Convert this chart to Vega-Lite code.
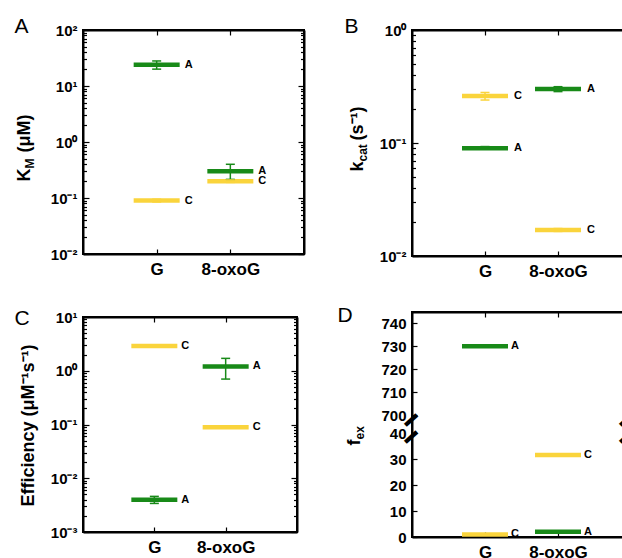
{
  "$schema": "https://vega.github.io/schema/vega-lite/v6.json",
  "padding": {"left": 13, "top": 14, "right": 0, "bottom": 0},
  "datasets": {
    "km": [
      {"sub": "G", "base": "A", "value": 24, "lo": 20, "hi": 28},
      {"sub": "G", "base": "C", "value": 0.09, "lo": 0.085, "hi": 0.095},
      {"sub": "8-oxoG", "base": "A", "value": 0.3, "lo": 0.215, "hi": 0.4},
      {"sub": "8-oxoG", "base": "C", "value": 0.2, "lo": 0.19, "hi": 0.21}
    ],
    "kcat": [
      {"sub": "G", "base": "C", "value": 0.26, "lo": 0.24, "hi": 0.28},
      {"sub": "G", "base": "A", "value": 0.09, "lo": 0.088, "hi": 0.093},
      {"sub": "8-oxoG", "base": "A", "value": 0.3, "lo": 0.285, "hi": 0.315},
      {"sub": "8-oxoG", "base": "C", "value": 0.017, "lo": 0.0165, "hi": 0.0175}
    ],
    "eff": [
      {"sub": "G", "base": "C", "value": 2.9, "lo": null, "hi": null},
      {"sub": "G", "base": "A", "value": 0.004, "lo": 0.0034, "hi": 0.0046},
      {"sub": "8-oxoG", "base": "A", "value": 1.2, "lo": 0.7, "hi": 1.7},
      {"sub": "8-oxoG", "base": "C", "value": 0.089, "lo": 0.086, "hi": 0.092}
    ],
    "fex": [
      {"sub": "G", "base": "A", "value": 730},
      {"sub": "G", "base": "C", "value": 1},
      {"sub": "8-oxoG", "base": "C", "value": 31.5},
      {"sub": "8-oxoG", "base": "A", "value": 2}
    ]
  },
  "spacing": 30,
  "hconcat": [
    {
      "spacing": 28,
      "vconcat": [
        {
          "width": 221, "height": 224,
          "data": {"name": "km"},
          "resolve": {"axis": {"x": "independent", "y": "independent"}},
          "layer": [
            {"transform": [{"filter": "datum.base == 'A'"}],
             "mark": {"type": "tick", "orient": "horizontal", "size": 46, "thickness": 4.5, "opacity": 1, "color": "#188a18"},
             "encoding": {
               "x": {"field": "sub", "type": "nominal", "sort": null, "scale": {"type": "point", "padding": 1},
                     "axis": {"orient": "bottom", "ticks": false, "domain": false, "labelPadding": 7, "labelFontSize": 17, "labelFontWeight": "bold", "labelColor": "black", "labelAngle": 0, "title": null}},
               "y": {"field": "value", "type": "quantitative", "scale": {"type": "log", "domain": [0.01, 100]},
                     "axis": {"orient": "left", "values": [0.01, 0.1, 1, 10, 100], "ticks": false, "domain": false, "labelPadding": 6, "labelFontSize": 15, "labelFontWeight": "bold", "labelColor": "black",
                              "labelExpr": "datum.value==100?'10²':datum.value==10?'10¹':datum.value==1?'10⁰':datum.value==0.1?'10⁻¹':datum.value==0.01?'10⁻²':datum.value==0.001?'10⁻³':''",
                              "title": "K", "titleFontSize": 18, "titleFontWeight": "bold", "titleColor": "black", "titleAngle": -90, "titleAlign": "right", "titleBaseline": "alphabetic", "titleX": -54, "titleY": 138}}
             }},
            {"transform": [{"filter": "datum.base == 'C'"}],
             "mark": {"type": "tick", "orient": "horizontal", "size": 46, "thickness": 4.5, "opacity": 1, "color": "#fad43c"},
             "encoding": {
               "x": {"field": "sub", "type": "nominal", "sort": null, "scale": {"type": "point", "padding": 1}, "axis": null},
               "y": {"field": "value", "type": "quantitative", "scale": {"type": "log", "domain": [0.01, 100]}, "axis": null}
             }},
            {"transform": [{"filter": "datum.base == 'A' && isValid(datum.lo)"}],
             "mark": {"type": "rule", "strokeWidth": 1.5, "color": "#188a18"},
             "encoding": {
               "x": {"field": "sub", "type": "nominal", "sort": null, "scale": {"type": "point", "padding": 1}, "axis": null},
               "y": {"field": "lo", "type": "quantitative", "scale": {"type": "log", "domain": [0.01, 100]}, "axis": null},
               "y2": {"field": "hi"}
             }},
            {"transform": [{"filter": "datum.base == 'C' && isValid(datum.lo)"}],
             "mark": {"type": "rule", "strokeWidth": 1.5, "color": "#fad43c"},
             "encoding": {
               "x": {"field": "sub", "type": "nominal", "sort": null, "scale": {"type": "point", "padding": 1}, "axis": null},
               "y": {"field": "lo", "type": "quantitative", "scale": {"type": "log", "domain": [0.01, 100]}, "axis": null},
               "y2": {"field": "hi"}
             }},
            {"transform": [{"filter": "datum.base == 'A' && isValid(datum.lo)"}],
             "mark": {"type": "tick", "orient": "horizontal", "size": 9, "thickness": 1.5, "opacity": 1, "color": "#188a18"},
             "encoding": {
               "x": {"field": "sub", "type": "nominal", "sort": null, "scale": {"type": "point", "padding": 1}, "axis": null},
               "y": {"field": "lo", "type": "quantitative", "scale": {"type": "log", "domain": [0.01, 100]}, "axis": null}
             }},
            {"transform": [{"filter": "datum.base == 'A' && isValid(datum.hi)"}],
             "mark": {"type": "tick", "orient": "horizontal", "size": 9, "thickness": 1.5, "opacity": 1, "color": "#188a18"},
             "encoding": {
               "x": {"field": "sub", "type": "nominal", "sort": null, "scale": {"type": "point", "padding": 1}, "axis": null},
               "y": {"field": "hi", "type": "quantitative", "scale": {"type": "log", "domain": [0.01, 100]}, "axis": null}
             }},
            {"transform": [{"filter": "datum.base == 'C' && isValid(datum.lo)"}],
             "mark": {"type": "tick", "orient": "horizontal", "size": 9, "thickness": 1.5, "opacity": 1, "color": "#fad43c"},
             "encoding": {
               "x": {"field": "sub", "type": "nominal", "sort": null, "scale": {"type": "point", "padding": 1}, "axis": null},
               "y": {"field": "lo", "type": "quantitative", "scale": {"type": "log", "domain": [0.01, 100]}, "axis": null}
             }},
            {"transform": [{"filter": "datum.base == 'C' && isValid(datum.hi)"}],
             "mark": {"type": "tick", "orient": "horizontal", "size": 9, "thickness": 1.5, "opacity": 1, "color": "#fad43c"},
             "encoding": {
               "x": {"field": "sub", "type": "nominal", "sort": null, "scale": {"type": "point", "padding": 1}, "axis": null},
               "y": {"field": "hi", "type": "quantitative", "scale": {"type": "log", "domain": [0.01, 100]}, "axis": null}
             }},
            {"mark": {"type": "text", "dx": 28, "align": "left", "baseline": "middle", "fontWeight": "bold", "fontSize": 11},
             "encoding": {
               "x": {"field": "sub", "type": "nominal", "sort": null, "scale": {"type": "point", "padding": 1},
                     "axis": {"orient": "top", "labels": false, "ticks": true, "tickSize": -5, "tickColor": "black", "tickWidth": 1.2, "domain": true, "domainColor": "black", "domainWidth": 2,
                              "title": "A", "titleFontSize": 21, "titleFontWeight": "normal", "titleColor": "black", "titleAngle": 0, "titleAlign": "left", "titleBaseline": "alphabetic", "titleX": -69, "titleY": 2}},
               "y": {"field": "value", "type": "quantitative", "scale": {"type": "log", "domain": [0.01, 100]},
                     "axis": {"orient": "right", "labels": false, "title": null, "ticks": true, "tickSize": -6, "tickColor": "black", "tickWidth": 1.2, "domain": true, "domainColor": "black", "domainWidth": 2, "values": [0.01, 0.1, 1, 10, 100]}},
               "text": {"field": "base"}
             }},
            {"mark": {"type": "point", "opacity": 0},
             "encoding": {
               "x": {"field": "sub", "type": "nominal", "sort": null, "scale": {"type": "point", "padding": 1},
                     "axis": {"orient": "bottom", "labels": false, "ticks": true, "tickSize": -5, "tickColor": "black", "tickWidth": 1.2, "domain": true, "domainColor": "black", "domainWidth": 2, "title": null}},
               "y": {"field": "value", "type": "quantitative", "scale": {"type": "log", "domain": [0.01, 100]},
                     "axis": {"orient": "left", "labels": false, "ticks": true, "tickSize": -6, "tickColor": "black", "tickWidth": 1.2, "domain": true, "domainColor": "black", "domainWidth": 2, "values": [0.01, 0.1, 1, 10, 100],
                              "title": "M", "titleFontSize": 12, "titleFontWeight": "bold", "titleColor": "black", "titleAngle": -90, "titleAlign": "left", "titleBaseline": "alphabetic", "titleX": -50, "titleY": 138}}
             }},
            {"mark": {"type": "point", "opacity": 0},
             "encoding": {
               "x": {"field": "sub", "type": "nominal", "sort": null, "scale": {"type": "point", "padding": 1}, "axis": null},
               "y": {"field": "value", "type": "quantitative", "scale": {"type": "log", "domain": [0.01, 100]},
                     "axis": {"orient": "left", "labels": false, "ticks": true, "tickSize": -3.5, "tickColor": "black", "tickWidth": 1.2, "domain": false,
                              "values": [0.02,0.03,0.04,0.05,0.06,0.07,0.08,0.09,0.2,0.3,0.4,0.5,0.6,0.7,0.8,0.9,2,3,4,5,6,7,8,9,20,30,40,50,60,70,80,90],
                              "title": "(μM)", "titleFontSize": 18, "titleFontWeight": "bold", "titleColor": "black", "titleAngle": -90, "titleAlign": "left", "titleBaseline": "alphabetic", "titleX": -54, "titleY": 122}}
             }},
            {"mark": {"type": "point", "opacity": 0},
             "encoding": {
               "x": {"field": "sub", "type": "nominal", "sort": null, "scale": {"type": "point", "padding": 1}, "axis": null},
               "y": {"field": "value", "type": "quantitative", "scale": {"type": "log", "domain": [0.01, 100]},
                     "axis": {"orient": "right", "labels": false, "title": null, "ticks": true, "tickSize": -3.5, "tickColor": "black", "tickWidth": 1.2, "domain": false,
                              "values": [0.02,0.03,0.04,0.05,0.06,0.07,0.08,0.09,0.2,0.3,0.4,0.5,0.6,0.7,0.8,0.9,2,3,4,5,6,7,8,9,20,30,40,50,60,70,80,90]}}
             }}
          ]
        },
        {
          "width": 214, "height": 215,
          "data": {"name": "eff"},
          "resolve": {"axis": {"x": "independent", "y": "independent"}},
          "layer": [
            {"transform": [{"filter": "datum.base == 'A'"}],
             "mark": {"type": "tick", "orient": "horizontal", "size": 46, "thickness": 4.5, "opacity": 1, "color": "#188a18"},
             "encoding": {
               "x": {"field": "sub", "type": "nominal", "sort": null, "scale": {"type": "point", "padding": 1},
                     "axis": {"orient": "bottom", "ticks": false, "domain": false, "labelPadding": 7, "labelFontSize": 17, "labelFontWeight": "bold", "labelColor": "black", "labelAngle": 0, "title": null}},
               "y": {"field": "value", "type": "quantitative", "scale": {"type": "log", "domain": [0.001, 10]},
                     "axis": {"orient": "left", "values": [0.001, 0.01, 0.1, 1, 10], "ticks": false, "domain": false, "labelPadding": 6, "labelFontSize": 15, "labelFontWeight": "bold", "labelColor": "black",
                              "labelExpr": "datum.value==100?'10²':datum.value==10?'10¹':datum.value==1?'10⁰':datum.value==0.1?'10⁻¹':datum.value==0.01?'10⁻²':datum.value==0.001?'10⁻³':''",
                              "title": "Efficiency (μM⁻¹s⁻¹)", "titleFontSize": 18, "titleFontWeight": "bold", "titleColor": "black", "titleAngle": -90, "titleAlign": "center", "titleBaseline": "alphabetic", "titleX": -50, "titleY": 108}}
             }},
            {"transform": [{"filter": "datum.base == 'C'"}],
             "mark": {"type": "tick", "orient": "horizontal", "size": 46, "thickness": 4.5, "opacity": 1, "color": "#fad43c"},
             "encoding": {
               "x": {"field": "sub", "type": "nominal", "sort": null, "scale": {"type": "point", "padding": 1}, "axis": null},
               "y": {"field": "value", "type": "quantitative", "scale": {"type": "log", "domain": [0.001, 10]}, "axis": null}
             }},
            {"transform": [{"filter": "datum.base == 'A' && isValid(datum.lo)"}],
             "mark": {"type": "rule", "strokeWidth": 1.5, "color": "#188a18"},
             "encoding": {
               "x": {"field": "sub", "type": "nominal", "sort": null, "scale": {"type": "point", "padding": 1}, "axis": null},
               "y": {"field": "lo", "type": "quantitative", "scale": {"type": "log", "domain": [0.001, 10]}, "axis": null},
               "y2": {"field": "hi"}
             }},
            {"transform": [{"filter": "datum.base == 'C' && isValid(datum.lo)"}],
             "mark": {"type": "rule", "strokeWidth": 1.5, "color": "#fad43c"},
             "encoding": {
               "x": {"field": "sub", "type": "nominal", "sort": null, "scale": {"type": "point", "padding": 1}, "axis": null},
               "y": {"field": "lo", "type": "quantitative", "scale": {"type": "log", "domain": [0.001, 10]}, "axis": null},
               "y2": {"field": "hi"}
             }},
            {"transform": [{"filter": "datum.base == 'A' && isValid(datum.lo)"}],
             "mark": {"type": "tick", "orient": "horizontal", "size": 9, "thickness": 1.5, "opacity": 1, "color": "#188a18"},
             "encoding": {
               "x": {"field": "sub", "type": "nominal", "sort": null, "scale": {"type": "point", "padding": 1}, "axis": null},
               "y": {"field": "lo", "type": "quantitative", "scale": {"type": "log", "domain": [0.001, 10]}, "axis": null}
             }},
            {"transform": [{"filter": "datum.base == 'A' && isValid(datum.hi)"}],
             "mark": {"type": "tick", "orient": "horizontal", "size": 9, "thickness": 1.5, "opacity": 1, "color": "#188a18"},
             "encoding": {
               "x": {"field": "sub", "type": "nominal", "sort": null, "scale": {"type": "point", "padding": 1}, "axis": null},
               "y": {"field": "hi", "type": "quantitative", "scale": {"type": "log", "domain": [0.001, 10]}, "axis": null}
             }},
            {"transform": [{"filter": "datum.base == 'C' && isValid(datum.lo)"}],
             "mark": {"type": "tick", "orient": "horizontal", "size": 9, "thickness": 1.5, "opacity": 1, "color": "#fad43c"},
             "encoding": {
               "x": {"field": "sub", "type": "nominal", "sort": null, "scale": {"type": "point", "padding": 1}, "axis": null},
               "y": {"field": "lo", "type": "quantitative", "scale": {"type": "log", "domain": [0.001, 10]}, "axis": null}
             }},
            {"transform": [{"filter": "datum.base == 'C' && isValid(datum.hi)"}],
             "mark": {"type": "tick", "orient": "horizontal", "size": 9, "thickness": 1.5, "opacity": 1, "color": "#fad43c"},
             "encoding": {
               "x": {"field": "sub", "type": "nominal", "sort": null, "scale": {"type": "point", "padding": 1}, "axis": null},
               "y": {"field": "hi", "type": "quantitative", "scale": {"type": "log", "domain": [0.001, 10]}, "axis": null}
             }},
            {"mark": {"type": "text", "dx": 27, "align": "left", "baseline": "middle", "fontWeight": "bold", "fontSize": 11},
             "encoding": {
               "x": {"field": "sub", "type": "nominal", "sort": null, "scale": {"type": "point", "padding": 1},
                     "axis": {"orient": "top", "labels": false, "ticks": true, "tickSize": -5, "tickColor": "black", "tickWidth": 1.2, "domain": true, "domainColor": "black", "domainWidth": 2,
                              "title": "C", "titleFontSize": 21, "titleFontWeight": "normal", "titleColor": "black", "titleAngle": 0, "titleAlign": "left", "titleBaseline": "alphabetic", "titleX": -69, "titleY": 7}},
               "y": {"field": "value", "type": "quantitative", "scale": {"type": "log", "domain": [0.001, 10]},
                     "axis": {"orient": "right", "labels": false, "title": null, "ticks": true, "tickSize": -6, "tickColor": "black", "tickWidth": 1.2, "domain": true, "domainColor": "black", "domainWidth": 2, "values": [0.001, 0.01, 0.1, 1, 10]}},
               "text": {"field": "base"}
             }},
            {"mark": {"type": "point", "opacity": 0},
             "encoding": {
               "x": {"field": "sub", "type": "nominal", "sort": null, "scale": {"type": "point", "padding": 1},
                     "axis": {"orient": "bottom", "labels": false, "ticks": true, "tickSize": -5, "tickColor": "black", "tickWidth": 1.2, "domain": true, "domainColor": "black", "domainWidth": 2, "title": null}},
               "y": {"field": "value", "type": "quantitative", "scale": {"type": "log", "domain": [0.001, 10]},
                     "axis": {"orient": "left", "labels": false, "title": null, "ticks": true, "tickSize": -6, "tickColor": "black", "tickWidth": 1.2, "domain": true, "domainColor": "black", "domainWidth": 2, "values": [0.001, 0.01, 0.1, 1, 10]}}
             }},
            {"mark": {"type": "point", "opacity": 0},
             "encoding": {
               "x": {"field": "sub", "type": "nominal", "sort": null, "scale": {"type": "point", "padding": 1}, "axis": null},
               "y": {"field": "value", "type": "quantitative", "scale": {"type": "log", "domain": [0.001, 10]},
                     "axis": {"orient": "left", "labels": false, "title": null, "ticks": true, "tickSize": -3.5, "tickColor": "black", "tickWidth": 1.2, "domain": false,
                              "values": [0.002,0.003,0.004,0.005,0.006,0.007,0.008,0.009,0.02,0.03,0.04,0.05,0.06,0.07,0.08,0.09,0.2,0.3,0.4,0.5,0.6,0.7,0.8,0.9,2,3,4,5,6,7,8,9]}}
             }},
            {"mark": {"type": "point", "opacity": 0},
             "encoding": {
               "x": {"field": "sub", "type": "nominal", "sort": null, "scale": {"type": "point", "padding": 1}, "axis": null},
               "y": {"field": "value", "type": "quantitative", "scale": {"type": "log", "domain": [0.001, 10]},
                     "axis": {"orient": "right", "labels": false, "title": null, "ticks": true, "tickSize": -3.5, "tickColor": "black", "tickWidth": 1.2, "domain": false,
                              "values": [0.002,0.003,0.004,0.005,0.006,0.007,0.008,0.009,0.02,0.03,0.04,0.05,0.06,0.07,0.08,0.09,0.2,0.3,0.4,0.5,0.6,0.7,0.8,0.9,2,3,4,5,6,7,8,9]}}
             }}
          ]
        }
      ]
    },
    {
      "spacing": 23,
      "vconcat": [
        {
          "width": 219, "height": 226,
          "data": {"name": "kcat"},
          "resolve": {"axis": {"x": "independent", "y": "independent"}},
          "layer": [
            {"transform": [{"filter": "datum.base == 'A'"}],
             "mark": {"type": "tick", "orient": "horizontal", "size": 46, "thickness": 4.5, "opacity": 1, "color": "#188a18"},
             "encoding": {
               "x": {"field": "sub", "type": "nominal", "sort": null, "scale": {"type": "point", "padding": 1},
                     "axis": {"orient": "bottom", "ticks": false, "domain": false, "labelPadding": 7, "labelFontSize": 17, "labelFontWeight": "bold", "labelColor": "black", "labelAngle": 0, "title": null}},
               "y": {"field": "value", "type": "quantitative", "scale": {"type": "log", "domain": [0.01, 1]},
                     "axis": {"orient": "left", "values": [0.01, 0.1, 1], "ticks": false, "domain": false, "labelPadding": 6, "labelFontSize": 15, "labelFontWeight": "bold", "labelColor": "black",
                              "labelExpr": "datum.value==100?'10²':datum.value==10?'10¹':datum.value==1?'10⁰':datum.value==0.1?'10⁻¹':datum.value==0.01?'10⁻²':datum.value==0.001?'10⁻³':''",
                              "title": "k", "titleFontSize": 18, "titleFontWeight": "bold", "titleColor": "black", "titleAngle": -90, "titleAlign": "right", "titleBaseline": "alphabetic", "titleX": -50, "titleY": 131}}
             }},
            {"transform": [{"filter": "datum.base == 'C'"}],
             "mark": {"type": "tick", "orient": "horizontal", "size": 46, "thickness": 4.5, "opacity": 1, "color": "#fad43c"},
             "encoding": {
               "x": {"field": "sub", "type": "nominal", "sort": null, "scale": {"type": "point", "padding": 1}, "axis": null},
               "y": {"field": "value", "type": "quantitative", "scale": {"type": "log", "domain": [0.01, 1]}, "axis": null}
             }},
            {"transform": [{"filter": "datum.base == 'A' && isValid(datum.lo)"}],
             "mark": {"type": "rule", "strokeWidth": 1.5, "color": "#188a18"},
             "encoding": {
               "x": {"field": "sub", "type": "nominal", "sort": null, "scale": {"type": "point", "padding": 1}, "axis": null},
               "y": {"field": "lo", "type": "quantitative", "scale": {"type": "log", "domain": [0.01, 1]}, "axis": null},
               "y2": {"field": "hi"}
             }},
            {"transform": [{"filter": "datum.base == 'C' && isValid(datum.lo)"}],
             "mark": {"type": "rule", "strokeWidth": 1.5, "color": "#fad43c"},
             "encoding": {
               "x": {"field": "sub", "type": "nominal", "sort": null, "scale": {"type": "point", "padding": 1}, "axis": null},
               "y": {"field": "lo", "type": "quantitative", "scale": {"type": "log", "domain": [0.01, 1]}, "axis": null},
               "y2": {"field": "hi"}
             }},
            {"transform": [{"filter": "datum.base == 'A' && isValid(datum.lo)"}],
             "mark": {"type": "tick", "orient": "horizontal", "size": 9, "thickness": 1.5, "opacity": 1, "color": "#188a18"},
             "encoding": {
               "x": {"field": "sub", "type": "nominal", "sort": null, "scale": {"type": "point", "padding": 1}, "axis": null},
               "y": {"field": "lo", "type": "quantitative", "scale": {"type": "log", "domain": [0.01, 1]}, "axis": null}
             }},
            {"transform": [{"filter": "datum.base == 'A' && isValid(datum.hi)"}],
             "mark": {"type": "tick", "orient": "horizontal", "size": 9, "thickness": 1.5, "opacity": 1, "color": "#188a18"},
             "encoding": {
               "x": {"field": "sub", "type": "nominal", "sort": null, "scale": {"type": "point", "padding": 1}, "axis": null},
               "y": {"field": "hi", "type": "quantitative", "scale": {"type": "log", "domain": [0.01, 1]}, "axis": null}
             }},
            {"transform": [{"filter": "datum.base == 'C' && isValid(datum.lo)"}],
             "mark": {"type": "tick", "orient": "horizontal", "size": 9, "thickness": 1.5, "opacity": 1, "color": "#fad43c"},
             "encoding": {
               "x": {"field": "sub", "type": "nominal", "sort": null, "scale": {"type": "point", "padding": 1}, "axis": null},
               "y": {"field": "lo", "type": "quantitative", "scale": {"type": "log", "domain": [0.01, 1]}, "axis": null}
             }},
            {"transform": [{"filter": "datum.base == 'C' && isValid(datum.hi)"}],
             "mark": {"type": "tick", "orient": "horizontal", "size": 9, "thickness": 1.5, "opacity": 1, "color": "#fad43c"},
             "encoding": {
               "x": {"field": "sub", "type": "nominal", "sort": null, "scale": {"type": "point", "padding": 1}, "axis": null},
               "y": {"field": "hi", "type": "quantitative", "scale": {"type": "log", "domain": [0.01, 1]}, "axis": null}
             }},
            {"mark": {"type": "text", "dx": 29, "align": "left", "baseline": "middle", "fontWeight": "bold", "fontSize": 11},
             "encoding": {
               "x": {"field": "sub", "type": "nominal", "sort": null, "scale": {"type": "point", "padding": 1},
                     "axis": {"orient": "top", "labels": false, "ticks": true, "tickSize": -5, "tickColor": "black", "tickWidth": 1.2, "domain": true, "domainColor": "black", "domainWidth": 2,
                              "title": "B", "titleFontSize": 21, "titleFontWeight": "normal", "titleColor": "black", "titleAngle": 0, "titleAlign": "left", "titleBaseline": "alphabetic", "titleX": -68, "titleY": 2}},
               "y": {"field": "value", "type": "quantitative", "scale": {"type": "log", "domain": [0.01, 1]},
                     "axis": {"orient": "right", "labels": false, "title": null, "ticks": true, "tickSize": -6, "tickColor": "black", "tickWidth": 1.2, "domain": true, "domainColor": "black", "domainWidth": 2, "values": [0.01, 0.1, 1]}},
               "text": {"field": "base"}
             }},
            {"mark": {"type": "point", "opacity": 0},
             "encoding": {
               "x": {"field": "sub", "type": "nominal", "sort": null, "scale": {"type": "point", "padding": 1},
                     "axis": {"orient": "bottom", "labels": false, "ticks": true, "tickSize": -5, "tickColor": "black", "tickWidth": 1.2, "domain": true, "domainColor": "black", "domainWidth": 2, "title": null}},
               "y": {"field": "value", "type": "quantitative", "scale": {"type": "log", "domain": [0.01, 1]},
                     "axis": {"orient": "left", "labels": false, "ticks": true, "tickSize": -6, "tickColor": "black", "tickWidth": 1.2, "domain": true, "domainColor": "black", "domainWidth": 2, "values": [0.01, 0.1, 1],
                              "title": "cat", "titleFontSize": 12, "titleFontWeight": "bold", "titleColor": "black", "titleAngle": -90, "titleAlign": "left", "titleBaseline": "alphabetic", "titleX": -46, "titleY": 131}}
             }},
            {"mark": {"type": "point", "opacity": 0},
             "encoding": {
               "x": {"field": "sub", "type": "nominal", "sort": null, "scale": {"type": "point", "padding": 1}, "axis": null},
               "y": {"field": "value", "type": "quantitative", "scale": {"type": "log", "domain": [0.01, 1]},
                     "axis": {"orient": "left", "labels": false, "ticks": true, "tickSize": -3.5, "tickColor": "black", "tickWidth": 1.2, "domain": false,
                              "values": [0.02,0.03,0.04,0.05,0.06,0.07,0.08,0.09,0.2,0.3,0.4,0.5,0.6,0.7,0.8,0.9],
                              "title": "(s⁻¹)", "titleFontSize": 18, "titleFontWeight": "bold", "titleColor": "black", "titleAngle": -90, "titleAlign": "left", "titleBaseline": "alphabetic", "titleX": -50, "titleY": 110}}
             }},
            {"mark": {"type": "point", "opacity": 0},
             "encoding": {
               "x": {"field": "sub", "type": "nominal", "sort": null, "scale": {"type": "point", "padding": 1}, "axis": null},
               "y": {"field": "value", "type": "quantitative", "scale": {"type": "log", "domain": [0.01, 1]},
                     "axis": {"orient": "right", "labels": false, "title": null, "ticks": true, "tickSize": -3.5, "tickColor": "black", "tickWidth": 1.2, "domain": false,
                              "values": [0.02,0.03,0.04,0.05,0.06,0.07,0.08,0.09,0.2,0.3,0.4,0.5,0.6,0.7,0.8,0.9]}}
             }}
          ]
        },
        {
          "width": 219, "height": 225,
          "data": {"name": "fex"},
          "resolve": {"axis": {"x": "independent", "y": "independent"}},
          "layer": [
            {"transform": [{"filter": "datum.base == 'A'"}],
             "mark": {"type": "tick", "orient": "horizontal", "size": 46, "thickness": 4.5, "opacity": 1, "color": "#188a18"},
             "encoding": {
               "x": {"field": "sub", "type": "nominal", "sort": null, "scale": {"type": "point", "padding": 1},
                     "axis": {"orient": "bottom", "ticks": false, "domain": false, "labelPadding": 7, "labelFontSize": 17, "labelFontWeight": "bold", "labelColor": "black", "labelAngle": 0, "title": null}},
               "y": {"field": "value", "type": "quantitative", "scale": {"type": "linear", "domain": [0, 40, 700, 745], "range": [225, 121, 103, 0], "nice": false, "zero": false},
                     "axis": {"orient": "left", "values": [0, 10, 20, 30, 40, 700, 710, 720, 730, 740], "ticks": false, "domain": false, "labelPadding": 6, "labelFontSize": 15, "labelFontWeight": "bold", "labelColor": "black",
                              "title": "f", "titleFontSize": 18, "titleFontWeight": "bold", "titleColor": "black", "titleAngle": -90, "titleAlign": "right", "titleBaseline": "alphabetic", "titleX": -53, "titleY": 127}}
             }},
            {"transform": [{"filter": "datum.base == 'C'"}],
             "mark": {"type": "tick", "orient": "horizontal", "size": 46, "thickness": 4.5, "opacity": 1, "color": "#fad43c"},
             "encoding": {
               "x": {"field": "sub", "type": "nominal", "sort": null, "scale": {"type": "point", "padding": 1}, "axis": null},
               "y": {"field": "value", "type": "quantitative", "scale": {"type": "linear", "domain": [0, 40, 700, 745], "range": [225, 121, 103, 0], "nice": false, "zero": false}, "axis": null}
             }},
            {"mark": {"type": "text", "dx": 26, "align": "left", "baseline": "middle", "fontWeight": "bold", "fontSize": 11},
             "encoding": {
               "x": {"field": "sub", "type": "nominal", "sort": null, "scale": {"type": "point", "padding": 1},
                     "axis": {"orient": "top", "labels": false, "ticks": true, "tickSize": -5, "tickColor": "black", "tickWidth": 1.2, "domain": true, "domainColor": "black", "domainWidth": 2,
                              "title": "D", "titleFontSize": 21, "titleFontWeight": "normal", "titleColor": "black", "titleAngle": 0, "titleAlign": "left", "titleBaseline": "alphabetic", "titleX": -75, "titleY": 9}},
               "y": {"field": "value", "type": "quantitative", "scale": {"type": "linear", "domain": [0, 40, 700, 745], "range": [225, 121, 103, 0], "nice": false, "zero": false},
                     "axis": {"orient": "right", "labels": false, "title": null, "ticks": true, "tickSize": -5, "tickColor": "black", "tickWidth": 1.2, "domain": true, "domainColor": "black", "domainWidth": 2,
                              "values": [0, 10, 20, 30, 40, 700, 710, 720, 730, 740]}},
               "text": {"field": "base"}
             }},
            {"mark": {"type": "point", "opacity": 0},
             "encoding": {
               "x": {"field": "sub", "type": "nominal", "sort": null, "scale": {"type": "point", "padding": 1},
                     "axis": {"orient": "bottom", "labels": false, "ticks": true, "tickSize": -5, "tickColor": "black", "tickWidth": 1.2, "domain": true, "domainColor": "black", "domainWidth": 2, "title": null}},
               "y": {"field": "value", "type": "quantitative", "scale": {"type": "linear", "domain": [0, 40, 700, 745], "range": [225, 121, 103, 0], "nice": false, "zero": false},
                     "axis": {"orient": "left", "labels": false, "ticks": true, "tickSize": -5, "tickColor": "black", "tickWidth": 1.2, "domain": true, "domainColor": "black", "domainWidth": 2,
                              "values": [0, 10, 20, 30, 40, 700, 710, 720, 730, 740],
                              "title": "ex", "titleFontSize": 12, "titleFontWeight": "bold", "titleColor": "black", "titleAngle": -90, "titleAlign": "left", "titleBaseline": "alphabetic", "titleX": -49, "titleY": 127}}
             }},
            {"mark": {"type": "point", "opacity": 0},
             "encoding": {
               "x": {"field": "sub", "type": "nominal", "sort": null, "scale": {"type": "point", "padding": 1}, "axis": null},
               "y": {"field": "value", "type": "quantitative", "scale": {"type": "linear", "domain": [0, 40, 700, 745], "range": [225, 121, 103, 0], "nice": false, "zero": false},
                     "axis": {"orient": "left", "ticks": false, "domain": false, "title": null, "values": [517, 38.5],
                              "labelExpr": "'━'", "labelFont": "DejaVu Sans", "labelFontSize": 25, "labelFontWeight": "normal", "labelColor": "black", "labelAngle": -42, "labelAlign": "center", "labelBaseline": "middle", "labelPadding": 1}}
             }},
            {"mark": {"type": "point", "opacity": 0},
             "encoding": {
               "x": {"field": "sub", "type": "nominal", "sort": null, "scale": {"type": "point", "padding": 1}, "axis": null},
               "y": {"field": "value", "type": "quantitative", "scale": {"type": "linear", "domain": [0, 40, 700, 745], "range": [225, 121, 103, 0], "nice": false, "zero": false},
                     "axis": {"orient": "right", "ticks": false, "domain": false, "title": null, "values": [517, 38.5],
                              "labelExpr": "'━'", "labelFont": "DejaVu Sans", "labelFontSize": 25, "labelFontWeight": "normal", "labelColor": "black", "labelAngle": -42, "labelAlign": "center", "labelBaseline": "middle", "labelPadding": -5}}
             }}
          ]
        }
      ]
    }
  ],
  "config": {
    "view": {"stroke": "black", "strokeWidth": 2},
    "font": "Liberation Sans",
    "axis": {"grid": false, "tickColor": "black", "domainColor": "black", "domainWidth": 2}
  }
}
